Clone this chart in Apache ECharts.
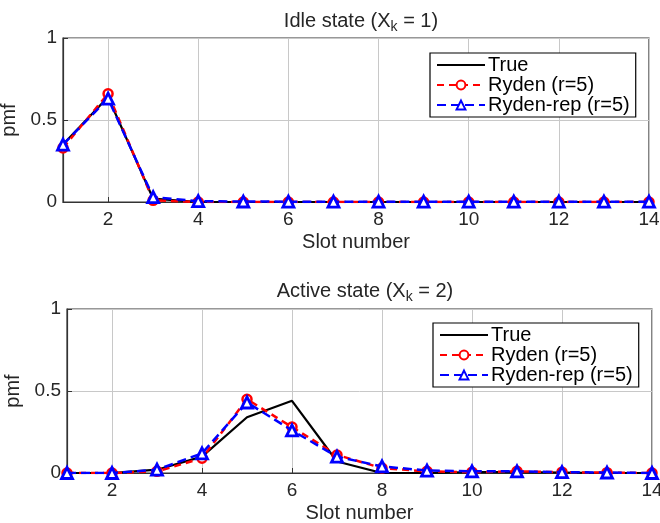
<!DOCTYPE html>
<html><head><meta charset="utf-8">
<script src="https://cdn.jsdelivr.net/npm/echarts@6/dist/echarts.min.js"></script>
<style>html,body{margin:0;padding:0;background:#fff}#c{width:660px;height:523px}</style>
</head><body><div id="c"></div>
<script>
const slots = [1,2,3,4,5,6,7,8,9,10,11,12,13,14];
const xTicks = [2,4,6,8,10,12,14];
const yTicks = [0,0.5,1];
const seriesNames = ['True','Ryden (r=5)','Ryden-rep (r=5)'];
const idleTrue   = [0.35,0.64,0.02,0,0,0,0,0,0,0,0,0,0,0];
const idleRyden  = [0.33,0.66,0.01,0,0,0,0,0,0,0,0,0,0,0];
const idleRep    = [0.35,0.63,0.03,0.005,0.003,0.002,0.002,0.002,0.002,0.002,0.002,0.002,0.002,0.002];
const activeTrue  = [0,0,0.02,0.10,0.34,0.44,0.07,0,0,0.005,0.005,0.003,0,0];
const activeRyden = [0,0,0.01,0.09,0.45,0.28,0.11,0.03,0.01,0.005,0.01,0.005,0.002,0];
const activeRep   = [0,0,0.02,0.12,0.43,0.26,0.10,0.04,0.015,0.01,0.01,0.005,0.003,0];

const FONT = 'Liberation Sans';
const TXT = '#262626';
function pairs(v){ return slots.map((s,i)=>[s,v[i]]); }

const grids = [
  {left:63, right:11, top:38, height:164},
  {left:67, right:8, top:309, height:164}
];
function xAxis(i){
  return {type:'value', gridIndex:i, min:1, max:14,
    name:'Slot number', nameLocation:'middle', nameGap:30,
    nameTextStyle:{fontFamily:FONT,fontSize:20,color:TXT},
    axisLine:{lineStyle:{color:'#333',width:1.2}},
    axisTick:{inside:true,length:5,customValues:xTicks,lineStyle:{color:'#333'}},
    axisLabel:{customValues:xTicks,fontFamily:FONT,fontSize:19,color:TXT,margin:8},
    splitLine:{show:true,lineStyle:{color:'#c8c8c8',width:1}}
  };
}
function yAxis(i){
  return {type:'value', gridIndex:i, min:0, max:1, interval:0.5,
    name:'pmf', nameLocation:'middle', nameGap:44,
    nameTextStyle:{fontFamily:FONT,fontSize:20,color:TXT},
    axisLine:{show:true,lineStyle:{color:'#333',width:1.2}},
    axisTick:{show:true,inside:true,length:5,lineStyle:{color:'#333'}},
    axisLabel:{fontFamily:FONT,fontSize:19,color:TXT,margin:6,formatter:v=>String(v)},
    splitLine:{show:true,lineStyle:{color:'#c8c8c8',width:1}}
  };
}
function mk(i, name, data){
  const base = {type:'line', name:name, xAxisIndex:i, yAxisIndex:i, data:pairs(data), animation:false};
  if(name===seriesNames[0]){
    return Object.assign(base,{symbol:'none',lineStyle:{color:'#000',width:2.2,type:'solid'},itemStyle:{color:'#000'},z:2});
  } else if(name===seriesNames[1]){
    return Object.assign(base,{symbol:'circle',symbolSize:9,showSymbol:true,
      lineStyle:{color:'#ff0000',width:2.5,type:[7,5]},
      itemStyle:{color:'#fff',borderColor:'#ff0000',borderWidth:2.5},z:3});
  } else {
    return Object.assign(base,{symbol:'triangle',symbolSize:11,showSymbol:true,
      lineStyle:{color:'#0000ff',width:2.5,type:[9,5]},
      itemStyle:{color:'#fff',borderColor:'#0000ff',borderWidth:2.8},z:4});
  }
}
function legendData(){
  return [
    {name:seriesNames[0], itemStyle:{color:'rgba(0,0,0,0)',borderWidth:0,opacity:0}},
    {name:seriesNames[1], itemStyle:{borderWidth:2}},
    {name:seriesNames[2], itemStyle:{borderWidth:2}}
  ];
}
function legend(left, top){
  return {orient:'vertical', left:left, top:top, width:205, height:64,
     backgroundColor:'#fff', borderColor:'#000', borderWidth:1.2,
     padding:[2,6,2,6], itemGap:0, itemWidth:48, itemHeight:11,
     textStyle:{fontFamily:FONT,fontSize:20,color:'#000',padding:[0,0,0,-2]},
     data:legendData()};
}
const titleRich = {k:{fontFamily:FONT,fontSize:14,color:TXT,verticalAlign:'bottom',padding:[12,0,0,0]}};
const option = {
  animation:false,
  backgroundColor:'#fff',
  title:[
    {text:'Idle state (X{k|k} = 1)', left:356, top:3, textAlign:'center',
     textStyle:{fontFamily:FONT,fontSize:20,fontWeight:'normal',color:TXT,rich:titleRich}},
    {text:'Active state (X{k|k} = 2)', left:360, top:273, textAlign:'center',
     textStyle:{fontFamily:FONT,fontSize:20,fontWeight:'normal',color:TXT,rich:titleRich}}
  ],
  grid: grids.map(g=>Object.assign({show:true,borderColor:'#333',borderWidth:1.2,backgroundColor:'transparent',containLabel:false,outerBoundsMode:'none'},g)),
  xAxis:[xAxis(0),xAxis(1)],
  yAxis:[yAxis(0),yAxis(1)],
  legend:[legend(430,53), legend(433,323)],
  series:[
    mk(0,seriesNames[0],idleTrue), mk(0,seriesNames[1],idleRyden), mk(0,seriesNames[2],idleRep),
    mk(1,seriesNames[0],activeTrue), mk(1,seriesNames[1],activeRyden), mk(1,seriesNames[2],activeRep)
  ]
};
const chart = echarts.init(document.getElementById('c'),null,{renderer:'canvas'});
chart.setOption(option);
</script></body></html>
